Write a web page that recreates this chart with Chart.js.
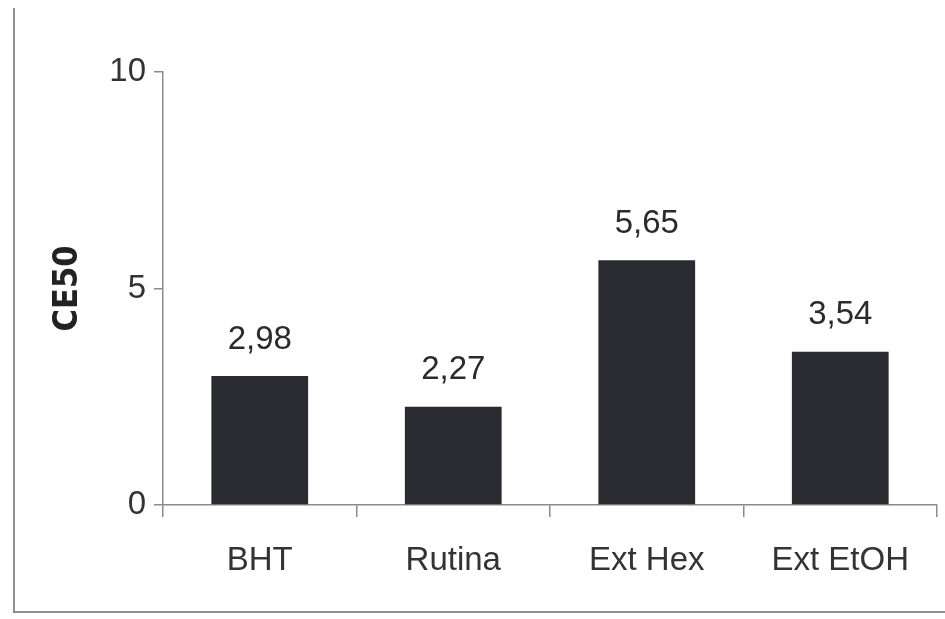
<!DOCTYPE html>
<html>
<head>
    <meta charset="utf-8">
    <title>CE50</title>
    <style>
        html, body { margin: 0; padding: 0; background: #fff; }
        #wrap { position: relative; width: 945px; height: 619px; }
        #frame { position: absolute; left: 13px; top: 8px; width: 932px; height: 605px; border-left: 2px solid #8f8f8f; border-bottom: 2px solid #8f8f8f; box-sizing: border-box; }
        canvas { position: absolute; left: 0; top: 0; }
    </style>
</head>
<body>
    <div id="wrap">
        <div id="frame"></div>
        <canvas id="myChart" width="945" height="619"></canvas>
    </div>

    <script src="https://cdn.jsdelivr.net/npm/chart.js"></script>

    <script>
        const labels = ['BHT', 'Rutina', 'Ext Hex', 'Ext EtOH'];
        const values = [2.98, 2.27, 5.65, 3.54];
        const yTicks = [0, 5, 10];

        const FONT = "'Liberation Sans', Arial, sans-serif";

        // writes the value above each bar, with a comma as decimal mark
        const valueLabels = {
            id: 'valueLabels',
            afterDatasetsDraw(chart) {
                const ctx = chart.ctx;
                const meta = chart.getDatasetMeta(0);
                ctx.save();
                ctx.font = '33px ' + FONT;
                ctx.fillStyle = '#2b2b2b';
                ctx.textAlign = 'center';
                ctx.textBaseline = 'bottom';
                meta.data.forEach((bar, i) => {
                    const txt = values[i].toFixed(2).replace('.', ',');
                    ctx.fillText(txt, bar.x, bar.y - 20);
                });
                ctx.restore();
            }
        };

        const config = {
            type: 'bar',
            data: {
                labels: labels,
                datasets: [{
                    data: values,
                    backgroundColor: '#2a2b30',
                    borderWidth: 0,
                    categoryPercentage: 1,
                    barPercentage: 0.5
                }]
            },
            options: {
                responsive: false,
                animation: false,
                layout: { padding: { left: 0, right: 8, top: 72, bottom: 0 } },
                plugins: {
                    legend: { display: false },
                    tooltip: { enabled: false }
                },
                scales: {
                    x: {
                        grid: {
                            drawOnChartArea: false,
                            drawTicks: true,
                            tickLength: 12,
                            color: '#8a8a8a',
                            lineWidth: 1.5
                        },
                        border: { color: '#8a8a8a', width: 1.5 },
                        ticks: {
                            color: '#333',
                            font: { family: FONT, size: 33 },
                            padding: 24
                        },
                        afterFit(scale) { scale.height = 114; }
                    },
                    y: {
                        min: 0,
                        max: 10,
                        afterBuildTicks(scale) {
                            scale.ticks = yTicks.map(v => ({ value: v }));
                        },
                        grid: {
                            drawOnChartArea: false,
                            tickLength: 9,
                            color: '#8a8a8a',
                            lineWidth: 1.5
                        },
                        border: { color: '#8a8a8a', width: 1.5 },
                        ticks: {
                            color: '#333',
                            font: { family: FONT, size: 33 },
                            padding: 8
                        },
                        title: {
                            display: true,
                            text: 'CE50',
                            color: '#222',
                            font: { family: "'Liberation Sans Narrow', 'DejaVu Sans Condensed', sans-serif", size: 34, weight: 'bold' },
                            padding: { top: 48, bottom: 0 }
                        },
                        afterFit(scale) { scale.width = 163; }
                    }
                }
            },
            plugins: [valueLabels]
        };

        const ctx = document.getElementById('myChart');
        new Chart(ctx, config);
    </script>
</body>
</html>
